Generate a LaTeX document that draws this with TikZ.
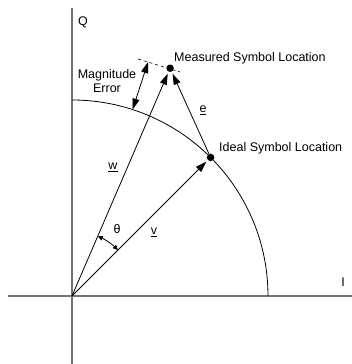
\documentclass[tikz,border=0pt]{standalone}
\usepackage{fontspec}
\setmainfont{Liberation Sans}
\usetikzlibrary{arrows.meta,calc}

\begin{document}
\begin{tikzpicture}[x=1pt, y=1pt, >={Triangle[length=11pt,width=7pt]},
  axis/.style={draw=black!55, line width=1.3pt},
  vec/.style={->, line width=0.8pt},
  dot/.style={circle, fill=black, inner sep=0pt, minimum size=7.5pt},
  lbl/.style={font=\fontsize{12.5}{14}\selectfont, inner sep=1pt}]
\useasboundingbox (-72,-68) rectangle (280,296);
% axes
\coordinate (O) at (0,0);
\coordinate (Ileft) at (-64,0);
\coordinate (Iright) at (280,0);
\coordinate (Qtop) at (0,288);
\coordinate (Qbot) at (0,-68);
\draw[axis] (Ileft) -- (Iright);
\draw[axis] (Qbot) -- (Qtop);
\node[lbl] (Qlbl) at (11,274) {Q};
\node[lbl] (Ilbl) at (271,14) {I};
% unit circle quarter
\draw[line width=0.8pt] (196,0) arc (0:90:196);
% symbol locations
\node[dot] (ideal) at (45:196) {};
\node[dot] (meas) at (66.7:248) {};
\node[lbl, anchor=west] (ideallbl) at (146,148) {Ideal Symbol Location};
\node[lbl, anchor=west] (measlbl) at (101,238) {Measured Symbol Location};
% vectors
\draw[vec, shorten >=2pt] (O) -- (ideal);
\draw[vec, shorten >=2pt] (O) -- (meas);
\draw[vec, shorten >=2pt] (ideal) -- (meas);
\node[lbl] (vlbl) at (82,64) {\underline{v}};
\node[lbl] (wlbl) at (41,129) {\underline{w}};
\node[lbl] (elbl) at (131,186) {\underline{e}};
% magnitude error
\coordinate (dashA) at (66,237);
\coordinate (dashB) at (108,224);
\draw[dashed, line width=0.6pt] (dashA) -- (dashB);
\coordinate (magin) at (72:196);
\coordinate (magout) at (72:246);
\draw[<->, line width=0.8pt] (magin) -- (magout);
\node[lbl, align=center] (maglbl) at (35,215) {Magnitude\\Error};
% angle theta
\draw[{Triangle[length=5pt,width=4.5pt]}-{Triangle[length=5pt,width=4.5pt]}, line width=0.8pt]
  (45:65) arc (45:66.7:65);
\node[lbl] (thlbl) at (45,67) {θ};
\end{tikzpicture}
\end{document}
